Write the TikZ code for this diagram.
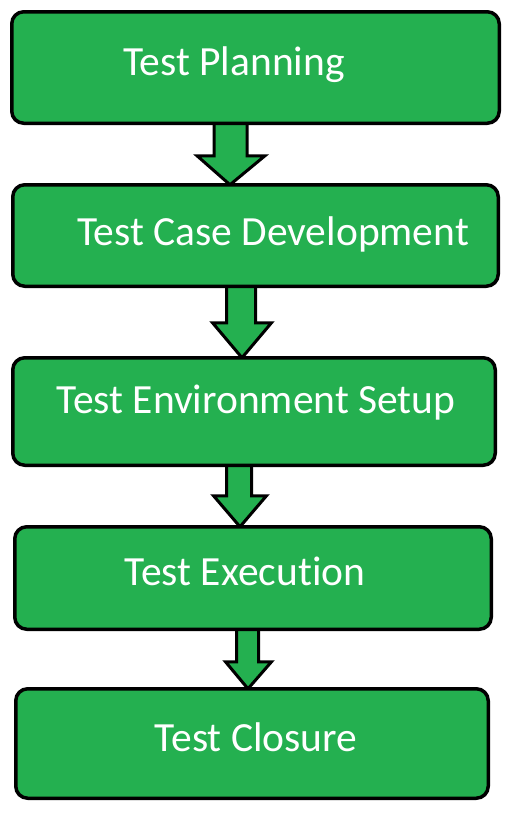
\documentclass[tikz,border=0pt]{standalone}
\usepackage{fontspec}
\setmainfont[Ligatures=NoCommon]{Carlito}
\usetikzlibrary{calc,backgrounds}
\definecolor{stepgreen}{RGB}{36,176,80}

\begin{document}
\begin{tikzpicture}[x=1pt,y=-1pt,
  box/.style={draw,line width=3.5pt,fill=stepgreen,rounded corners=12pt,
              outer sep=0pt,inner sep=0pt},
  lbl/.style={anchor=base,text=white,inner sep=0pt,
              font=\fontsize{41.5}{48}\selectfont},
  blk/.style={draw,line width=3pt,fill=stepgreen,line join=miter}]
  \useasboundingbox (0,0) rectangle (508,815);

  % phases
  \node[box,minimum width=487.5pt,minimum height=111.5pt] (P1) at (255.5,67.5) {};
  \node[box,minimum width=485.5pt,minimum height=101.5pt] (P2) at (255.5,235.5) {};
  \node[box,minimum width=482.5pt,minimum height=107.5pt] (P3) at (254,411.5) {};
  \node[box,minimum width=476.5pt,minimum height=102.5pt] (P4) at (253,578) {};
  \node[box,minimum width=472.5pt,minimum height=109.5pt] (P5) at (252,743.5) {};

  \node[lbl] (T1) at (234,75)  {Test Planning};
  \node[lbl] (T2) at (273,245) {Test Case Development};
  \node[lbl] (T3) at (256,413) {Test Environment Setup};
  \node[lbl] (T4) at (245,585) {Test Execution};
  \node[lbl] (T5) at (256,751) {Test Closure};

  % block arrows
  \begin{scope}[on background layer]
  \draw[blk] let \p1=(P1.south),\p2=(P2.north) in
    (214pt,\y1) -- (214pt,\y2+29pt) -- (197pt,\y2+29pt) -- (230pt,\y2)
    -- (265pt,\y2+29pt) -- (247pt,\y2+29pt) -- (247pt,\y1) -- cycle;
  \draw[blk] let \p1=(P2.south),\p2=(P3.north) in
    (226.5pt,\y1) -- (226.5pt,\y2+35pt) -- (212.5pt,\y2+35pt) -- (242pt,\y2)
    -- (271.5pt,\y2+35pt) -- (255.5pt,\y2+35pt) -- (255.5pt,\y1) -- cycle;
  \draw[blk] let \p1=(P3.south),\p2=(P4.north) in
    (226.5pt,\y1) -- (226.5pt,\y2+31pt) -- (213.5pt,\y2+31pt) -- (240pt,\y2)
    -- (266.5pt,\y2+31pt) -- (251.5pt,\y2+31pt) -- (251.5pt,\y1) -- cycle;
  \draw[blk] let \p1=(P4.south),\p2=(P5.north) in
    (236.5pt,\y1) -- (236.5pt,\y2+27pt) -- (225.5pt,\y2+27pt) -- (248pt,\y2)
    -- (271.5pt,\y2+27pt) -- (258.5pt,\y2+27pt) -- (258.5pt,\y1) -- cycle;
  \end{scope}
\end{tikzpicture}
\end{document}
